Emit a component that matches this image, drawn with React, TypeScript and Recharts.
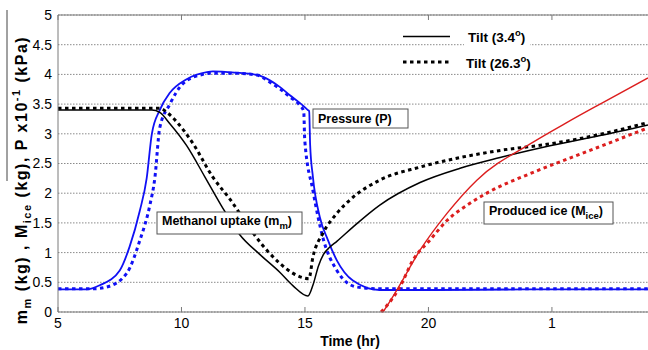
import React from "react";
import { LineChart, Line, XAxis, YAxis, CartesianGrid, ReferenceLine } from "recharts";

// [time (hr), value] pairs for each series
const pressureTilt34: [number, number][] = [
  [5, 0.38], [6.16, 0.38], [6.69, 0.45], [7.5, 0.7], [7.9, 1.1], [8.31, 1.7], [8.59, 2.25],
  [8.8, 3.0], [9.12, 3.4], [9.53, 3.69], [10.21, 3.92], [11.03, 4.04], [11.27, 4.05],
  [12.16, 4.03], [13.05, 3.99], [13.58, 3.9], [13.98, 3.79], [14.39, 3.65], [14.79, 3.52],
  [15.12, 3.4], [15.17, 3.38], [15.21, 2.81], [15.32, 2.28], [15.6, 1.6], [15.93, 1.21],
  [16.29, 0.87], [16.94, 0.53], [18.03, 0.37], [20, 0.37], [24, 0.38], [28.89, 0.38],
];
const pressureTilt263: [number, number][] = [
  [5, 0.39], [6.41, 0.39], [6.97, 0.42], [7.78, 0.65], [8.31, 1.2], [8.72, 1.8], [8.92, 2.25],
  [9.12, 3.1], [9.53, 3.5], [10.05, 3.84], [10.86, 4.0], [11.15, 4.02], [12.16, 4.02],
  [13.05, 3.99], [13.58, 3.87], [13.98, 3.76], [14.39, 3.62], [14.79, 3.48], [14.95, 3.38],
  [14.99, 2.9], [15.32, 2.05], [15.72, 1.26], [16.29, 0.7], [17.1, 0.42], [18.03, 0.39],
  [28.89, 0.39],
];
const methanolTilt34: [number, number][] = [
  [5, 3.4], [8.8, 3.4], [9.12, 3.36], [9.53, 3.17], [10.21, 2.8], [10.94, 2.28], [11.6, 1.8],
  [12.36, 1.3], [13.17, 0.97], [13.98, 0.67], [14.52, 0.44], [15.12, 0.27], [15.32, 0.45],
  [15.55, 0.78], [15.75, 0.97], [16.0, 1.09], [16.29, 1.19], [16.94, 1.43], [18.03, 1.8],
  [19.66, 2.18], [21.28, 2.42], [22.9, 2.6], [24.92, 2.8], [26.95, 2.97], [28.89, 3.15],
];
const methanolTilt263: [number, number][] = [
  [5, 3.43], [9.12, 3.43], [9.44, 3.35], [9.81, 3.2], [10.46, 2.84], [11.27, 2.27], [11.96, 1.9],
  [12.97, 1.29], [13.5, 1.02], [13.98, 0.82], [14.52, 0.65], [14.99, 0.57], [15.16, 0.56],
  [15.32, 0.92], [15.72, 1.32], [16.29, 1.66], [16.94, 1.93], [18.03, 2.22], [19.66, 2.44],
  [21.28, 2.6], [22.9, 2.72], [24.92, 2.83], [26.95, 2.99], [28.89, 3.19],
];
const iceTilt34: [number, number][] = [
  [18.16, 0], [18.44, 0.18], [18.72, 0.37], [19.66, 1.04], [20.75, 1.66], [21.96, 2.22],
  [24.24, 2.86], [25.65, 3.2], [26.95, 3.5], [28.89, 3.94],
];
const iceTilt263: [number, number][] = [
  [18.08, 0], [18.44, 0.17], [18.84, 0.42], [19.37, 0.87], [20.06, 1.21], [20.75, 1.54],
  [21.68, 1.83], [22.49, 2.03], [24.24, 2.35], [26.54, 2.72], [28.89, 3.1],
];

const xTickValues = [5, 10, 15, 20, 25];
const xTickLabels = ["5", "10", "15", "20", "1"];
const yTickValues = [0, 0.5, 1, 1.5, 2, 2.5, 3, 3.5, 4, 4.5, 5];

const toPoints = (pairs: [number, number][]) => pairs.map(([t, v]) => ({ t, v }));

const W = 648;
const H = 350;
const PLOT_TOP = 15;
const PLOT_BOTTOM = 312;
const AXIS = "#7a7a7a";
const FONT = "'Liberation Sans', Arial, sans-serif";
const BLUE = "#1010f5";
const RED = "#dc1e1e";
const DOT = "3.5 3.5";

const XTick = (props: any) => {
  const { x, y, payload } = props;
  const i = xTickValues.indexOf(payload.value);
  return (
    <g>
      <line x1={x} x2={x} y1={PLOT_BOTTOM} y2={PLOT_BOTTOM - 5} stroke={AXIS} />
      <line x1={x} x2={x} y1={PLOT_TOP} y2={PLOT_TOP + 5} stroke={AXIS} />
      <text x={x} y={y} dy="0.71em" textAnchor="middle" fontSize={14} fontFamily={FONT} fill="#000">
        {i >= 0 ? xTickLabels[i] : payload.value}
      </text>
    </g>
  );
};

const Box = ({ x, y, w, h }: { x: number; y: number; w: number; h: number }) => (
  <rect x={x} y={y} width={w} height={h} fill="#fff" stroke="#555" strokeWidth={1} />
);

export default function App() {
  return (
    <div style={{ position: "absolute", left: 0, top: 0, width: W, height: H, background: "#fff" }}>
      <LineChart width={W} height={H} margin={{ top: PLOT_TOP, right: 0, bottom: 8, left: 0 }}>
        <CartesianGrid horizontal vertical={false} stroke="#8a8a8a" strokeDasharray="1.5 1.5" />
        <XAxis
          type="number"
          dataKey="t"
          domain={[5, 28.89]}
          allowDataOverflow
          ticks={xTickValues}
          tick={<XTick />}
          tickLine={false}
          tickSize={0}
          tickMargin={6}
          height={30}
          axisLine={{ stroke: AXIS }}
        />
        <YAxis
          type="number"
          domain={[0, 5]}
          ticks={yTickValues}
          width={58}
          tickLine={false}
          tickSize={0}
          tickMargin={6}
          axisLine={{ stroke: AXIS }}
          tick={{ fontSize: 14, fontFamily: FONT, fill: "#000" }}
        />
        <ReferenceLine y={5} stroke={AXIS} strokeWidth={1} />
        <Line data={toPoints(pressureTilt34)} dataKey="v" type="monotone" stroke={BLUE} strokeWidth={1.8} dot={false} isAnimationActive={false} />
        <Line data={toPoints(pressureTilt263)} dataKey="v" type="monotone" stroke={BLUE} strokeWidth={3} strokeDasharray={DOT} dot={false} isAnimationActive={false} />
        <Line data={toPoints(methanolTilt34)} dataKey="v" type="monotone" stroke="#000" strokeWidth={1.5} dot={false} isAnimationActive={false} />
        <Line data={toPoints(methanolTilt263)} dataKey="v" type="monotone" stroke="#000" strokeWidth={3} strokeDasharray={DOT} dot={false} isAnimationActive={false} />
        <Line data={toPoints(iceTilt34)} dataKey="v" type="monotone" stroke={RED} strokeWidth={1.4} dot={false} isAnimationActive={false} />
        <Line data={toPoints(iceTilt263)} dataKey="v" type="monotone" stroke={RED} strokeWidth={3} strokeDasharray={DOT} dot={false} isAnimationActive={false} />
      </LineChart>

      <svg width={W} height={H} style={{ position: "absolute", left: 0, top: 0, pointerEvents: "none" }} fontFamily={FONT}>
        {/* y-axis title */}
        <line x1={7} x2={7} y1={10} y2={181} stroke="#444" strokeWidth={1} />
        <text transform="translate(27,180) rotate(-90)" textAnchor="middle" fontSize={16} letterSpacing={1.5} fontWeight="bold" fill="#000">
          m<tspan fontSize={11} dy={4}>m</tspan>
          <tspan dy={-4}> (kg) , M</tspan>
          <tspan fontSize={11} dy={4}>ice</tspan>
          <tspan dy={-4}> (kg), P x10</tspan>
          <tspan fontSize={11} dy={-7}>-1</tspan>
          <tspan dy={7}> (kPa)</tspan>
        </text>

        {/* x-axis title */}
        <text x={350} y={346} textAnchor="middle" fontSize={14} fontWeight="bold" fill="#000">Time (hr)</text>

        {/* legend */}
        <line x1={403} x2={450} y1={36.5} y2={36.5} stroke="#000" strokeWidth={1.5} />
        <rect x={464} y={38} width={66} height={9} fill="#fff" />
        <text x={468} y={42} fontSize={13.5} fontWeight="bold" fill="#000">
          Tilt (3.4<tspan fontSize={9.5} dy={-6}>o</tspan><tspan dy={6}>)</tspan>
        </text>
        <line x1={403} x2={450} y1={62} y2={62} stroke="#000" strokeWidth={3} strokeDasharray={DOT} />
        <text x={466} y={68} fontSize={13.5} fontWeight="bold" fill="#000">
          Tilt (26.3<tspan fontSize={9.5} dy={-6}>o</tspan><tspan dy={6}>)</tspan>
        </text>

        {/* series annotations */}
        <Box x={313} y={109} w={95} h={19} />
        <text x={318} y={122.5} fontSize={12.5} fontWeight="bold" fill="#000">Pressure (P)</text>

        <Box x={157} y={212} w={145} h={22} />
        <text x={162} y={224.5} fontSize={12.5} fontWeight="bold" fill="#000">
          Methanol uptake (m<tspan fontSize={9.5} dy={4}>m</tspan><tspan dy={-4}>)</tspan>
        </text>

        <Box x={484} y={202} w={129} h={22} />
        <text x={489} y={215} fontSize={12.5} fontWeight="bold" fill="#000">
          Produced ice (M<tspan fontSize={9.5} dy={4}>ice</tspan><tspan dy={-4}>)</tspan>
        </text>
      </svg>
    </div>
  );
}
